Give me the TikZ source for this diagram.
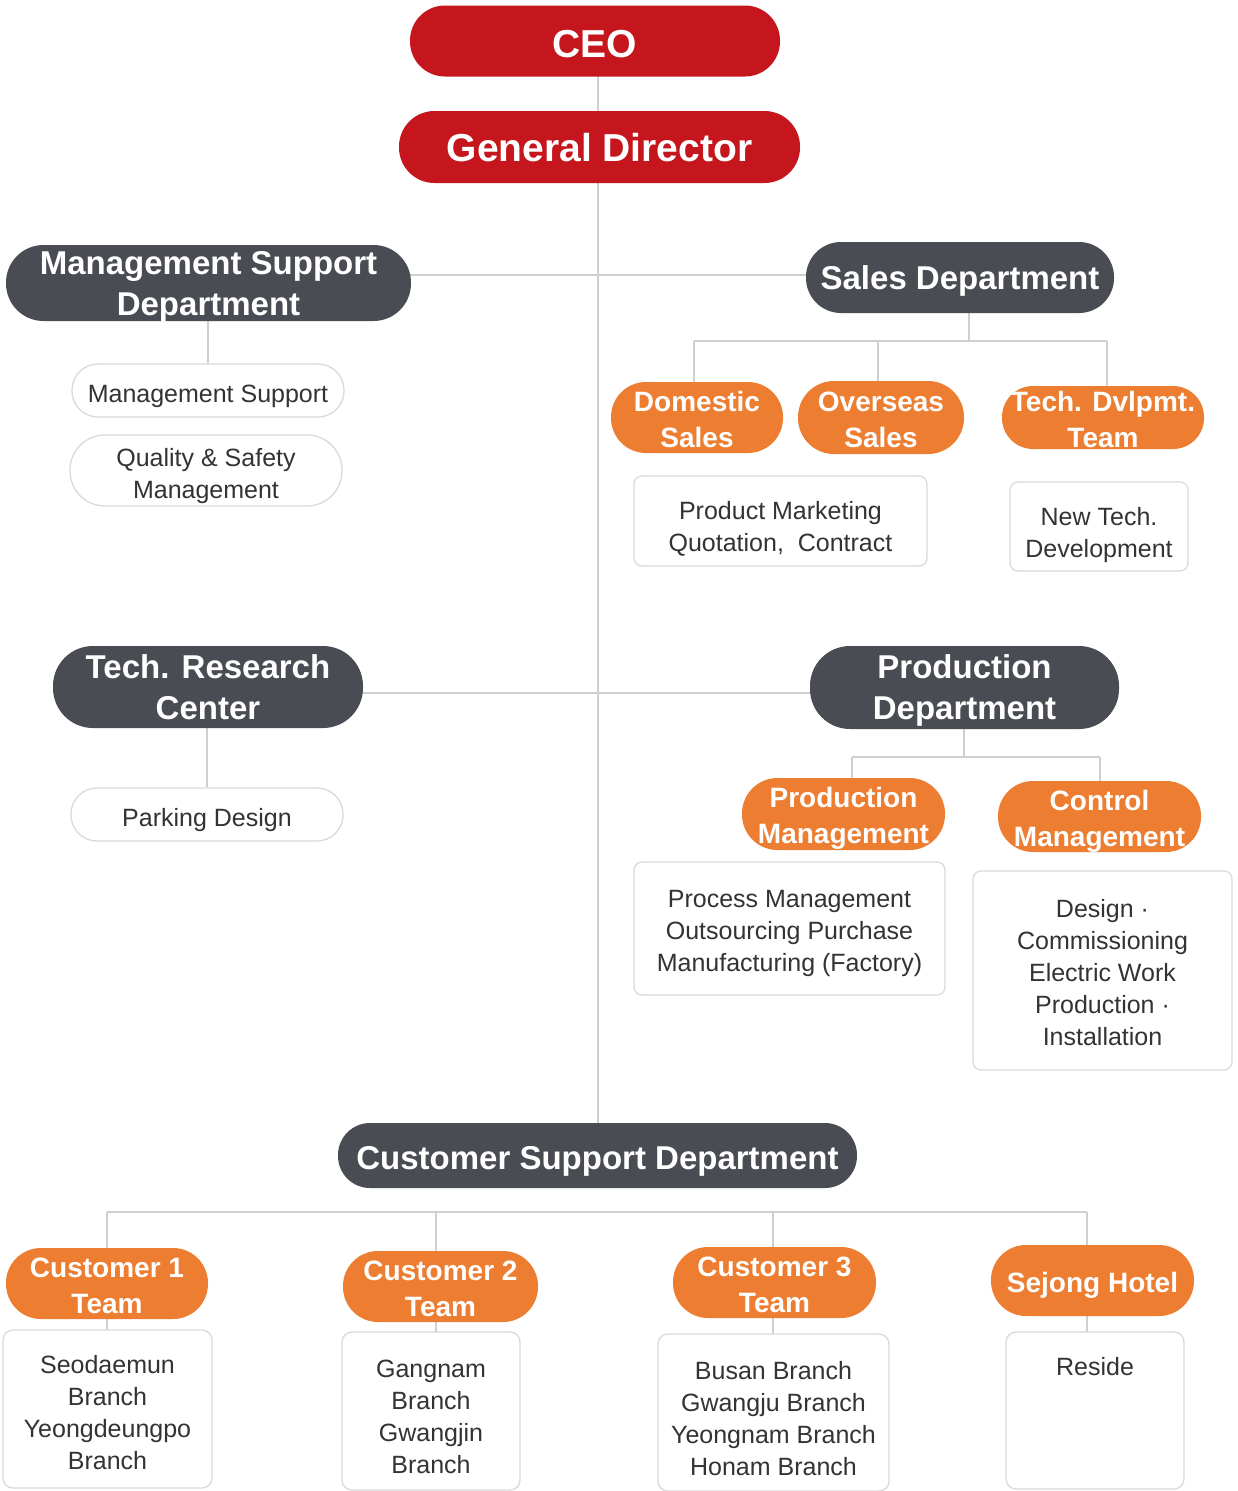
\documentclass[tikz,border=0pt]{standalone}
\usepackage{fontspec}
\setmainfont{Liberation Sans}
\usetikzlibrary{backgrounds}
\definecolor{cred}{HTML}{C4161C}
\definecolor{cdark}{HTML}{4A4C54}
\definecolor{corange}{HTML}{ED7D31}
\definecolor{cline}{HTML}{CFCFCF}
\definecolor{cborder}{HTML}{DADADA}
\definecolor{ctext}{HTML}{333333}
\newcommand{\mystrut}[1]{\rule{0pt}{#1pt}}
\begin{document}
\begin{tikzpicture}[x=1pt,y=-1pt,
  sz/.style n args={3}{minimum width=#1pt,minimum height=#2pt,rounded corners=#3pt},
  base/.style={inner xsep=0pt, inner ysep=-8pt, align=center, text depth=0pt},
  redpill/.style={base, fill=cred, text=white, font=\fontsize{39}{44}\selectfont\bfseries},
  darkpill/.style={base, fill=cdark, text=white, font=\fontsize{33}{41}\selectfont\bfseries},
  orangepill/.style={base, fill=corange, text=white, font=\fontsize{28}{36}\selectfont\bfseries},
  outpill/.style={base, draw=cborder, line width=1.3pt, fill=white, text=ctext, font=\fontsize{25}{32}\selectfont},
  infobox/.style={outpill},
  conn/.style={draw=cline, line width=1.5pt}]
\useasboundingbox (0,0) rectangle (1238,1491);

% top
\node[redpill, sz={370}{71}{35}] (ceo) at (595,41) {\mystrut{33}CEO};
\node[redpill, sz={401}{72}{35.5}] (gd) at (599.5,147) {General Director};

% row 1
\node[darkpill, sz={405}{76}{37.5}] (msd) at (208.5,283) {Management Support\\Department};
\node[darkpill, sz={308}{71}{35}] (sales) at (960,277.5) {Sales Department};
\node[outpill, sz={272}{53}{26}] (ms1) at (208,390.5) {\mystrut{24.3}Management Support};
\node[outpill, sz={272}{71}{35}] (qsm) at (206,470.5) {\mystrut{24.5}Quality \& Safety\\Management};
\node[orangepill, sz={172}{71}{35}] (dom) at (697,417.5) {\mystrut{24}Domestic\\Sales};
\node[orangepill, sz={166}{73}{36}] (ovs) at (881,417.5) {\mystrut{24.5}Overseas\\Sales};
\node[orangepill, sz={202}{63}{31}] (tdt) at (1103,417.5) {\mystrut{23.5}Tech. Dvlpmt.\\Team};
\node[infobox, sz={293}{90}{8}] (pmk) at (780.5,521) {\mystrut{28.2}Product Marketing\\Quotation,~ Contract};
\node[infobox, sz={178}{89}{8}] (ntd) at (1099,526.5) {\mystrut{30}New Tech.\\Development};

% row 2
\node[darkpill, sz={310}{82}{40}] (trc) at (208,687) {Tech. Research\\Center};
\node[darkpill, sz={309}{83}{40}] (prod) at (964.5,687.5) {Production\\Department};
\node[outpill, sz={272}{53}{26}] (park) at (207,814.5) {\mystrut{24}Parking Design};
\node[orangepill, sz={203}{72}{35.5}] (pm) at (843.5,814) {\mystrut{23.5}Production\\Management};
\node[orangepill, sz={203}{71}{35}] (cm) at (1099.5,816.5) {\mystrut{24.5}Control\\Management};
\node[infobox, sz={311}{133}{8}] (proc) at (789.5,928.5) {\mystrut{22.3}Process Management\\Outsourcing Purchase\\Manufacturing (Factory)};
\node[infobox, sz={259}{199}{8}] (dsg) at (1102.5,970.5) {\mystrut{22.2}Design ·\\Commissioning\\Electric Work\\Production ·\\Installation};

% customer support
\node[darkpill, sz={519}{65}{32}] (csd) at (597.5,1155.5) {\mystrut{28.2}Customer Support Department};
\node[orangepill, sz={202}{71}{35}] (c1) at (107,1283.5) {\mystrut{24}Customer 1\\Team};
\node[orangepill, sz={195}{71}{35}] (c2) at (440.5,1286.5) {\mystrut{24.5}Customer 2\\Team};
\node[orangepill, sz={203}{71}{35}] (c3) at (774.5,1282.5) {\mystrut{24}Customer 3\\Team};
\node[orangepill, sz={203}{71}{35}] (sej) at (1092.5,1280.5) {\mystrut{24.5}Sejong Hotel};
\node[infobox, sz={209}{158}{10}] (b1) at (107.5,1409) {\mystrut{24.3}Seodaemun\\Branch\\Yeongdeungpo\\Branch};
\node[infobox, sz={178}{158}{10}] (b2) at (431,1411) {\mystrut{28.3}Gangnam\\Branch\\Gwangjin\\Branch};
\node[infobox, sz={231}{157}{10}] (b3) at (773.5,1412.5) {\mystrut{30}Busan Branch\\Gwangju Branch\\Yeongnam Branch\\Honam Branch};
\node[infobox, sz={178}{157}{10}] (b4) at (1095,1410.5) {\mystrut{26}Reside\\~\\~\\~};

% connectors
\coordinate (sp) at (598,0);
\coordinate (r1) at (598,275);
\coordinate (r2) at (598,693);
\coordinate (sb) at (969,341);
\coordinate (sdom) at (694,341);
\coordinate (sovs) at (878,341);
\coordinate (stdt) at (1107,341);
\coordinate (pb) at (964,757);
\coordinate (ppm) at (852,757);
\coordinate (pcm) at (1100,757);
\coordinate (k1) at (107,1212);
\coordinate (k2) at (436,1212);
\coordinate (k3) at (773,1212);
\coordinate (k4) at (1087,1212);

\begin{scope}[on background layer]
\fill[white] (0,0) rectangle (1238,1491);
\draw[conn] (sp |- ceo) -- (sp |- csd);
\draw[conn] (msd |- r1) -- (sales |- r1);
\draw[conn] (trc |- r2) -- (prod |- r2);
\draw[conn] (ms1 |- msd) -- (ms1);
\draw[conn] (park |- trc) -- (park);
% sales tree
\draw[conn] (sb |- sales) -- (sb);
\draw[conn] (sdom) -- (stdt);
\draw[conn] (sdom) -- (sdom |- dom);
\draw[conn] (sovs) -- (sovs |- ovs);
\draw[conn] (stdt) -- (stdt |- tdt);
% production tree
\draw[conn] (pb |- prod) -- (pb);
\draw[conn] (ppm) -- (pcm);
\draw[conn] (ppm) -- (ppm |- pm);
\draw[conn] (pcm) -- (pcm |- cm);
% customer tree
\draw[conn] (k1) -- (k4);
\draw[conn] (k1) -- (k1 |- b1);
\draw[conn] (k2) -- (k2 |- b2);
\draw[conn] (k3) -- (k3 |- b3);
\draw[conn] (k4) -- (k4 |- b4);
\end{scope}
\end{tikzpicture}
\end{document}
